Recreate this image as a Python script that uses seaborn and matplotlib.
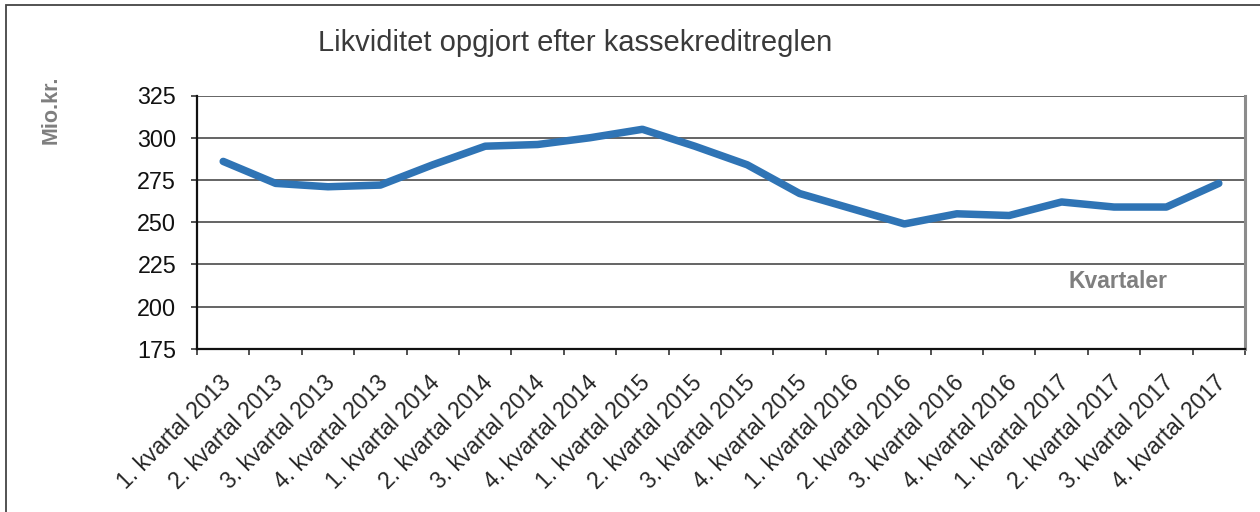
import matplotlib
matplotlib.use("Agg")
import matplotlib.pyplot as plt
import matplotlib.transforms as mtransforms
from matplotlib.patches import Rectangle
import seaborn as sns
import pandas as pd

# quarters and liquidity (mio. kr.)
quarters = [
    "1. kvartal 2013", "2. kvartal 2013", "3. kvartal 2013", "4. kvartal 2013",
    "1. kvartal 2014", "2. kvartal 2014", "3. kvartal 2014", "4. kvartal 2014",
    "1. kvartal 2015", "2. kvartal 2015", "3. kvartal 2015", "4. kvartal 2015",
    "1. kvartal 2016", "2. kvartal 2016", "3. kvartal 2016", "4. kvartal 2016",
    "1. kvartal 2017", "2. kvartal 2017", "3. kvartal 2017", "4. kvartal 2017",
]
liquidity = [286, 273, 271, 272, 284, 295, 296, 300, 305, 295,
             284, 267, 258, 249, 255, 254, 262, 259, 259, 273]
y_ticks = [175, 200, 225, 250, 275, 300, 325]

df = pd.DataFrame({"Kvartal": quarters, "Likviditet": liquidity})

sns.set_style("white")
plt.rcParams["font.family"] = ["Liberation Sans", "DejaVu Sans"]

fig = plt.figure(figsize=(12.6, 5.12), dpi=100)
ax = fig.add_axes([197 / 1260, 1 - 349 / 512, (1245 - 197) / 1260, (349 - 95.5) / 512])

sns.lineplot(data=df, x="Kvartal", y="Likviditet", ax=ax, color="#2f74b5",
             linewidth=5.4, sort=False, zorder=3)

ax.set_xlim(-0.5, len(quarters) - 0.5)
ax.set_ylim(175, 325)
ax.set_yticks(y_ticks)
ax.set_yticklabels([str(v) for v in y_ticks], fontsize=16.8, color="#111111")

# gridlines
for v in y_ticks[1:]:
    ax.axhline(v, color="#3a3a3a", linewidth=1.1, zorder=1)

# x ticks at category boundaries, labels at centers
ax.set_xticks([i - 0.5 for i in range(len(quarters) + 1)])
ax.set_xticklabels([])
ax.set_xticks(range(len(quarters)), minor=True)
ax.set_xticklabels(quarters, minor=True, rotation=45, ha="right", va="center",
                   rotation_mode="anchor", fontsize=16.5, color="#262626")
ax.tick_params(axis="x", which="minor", length=0, pad=22)
ax.tick_params(axis="x", which="major", direction="out", length=4.5, width=1.1,
               color="#222222", bottom=True)
ax.tick_params(axis="y", direction="out", length=4.5, width=1.1, color="#222222",
               pad=10.5, left=True)
offset = mtransforms.ScaledTranslation(4 / 100, 0, fig.dpi_scale_trans)
for lbl in ax.get_xticklabels(minor=True):
    lbl.set_transform(lbl.get_transform() + offset)

ax.set_xlabel("")
ax.set_ylabel("")
for side in ["left", "bottom"]:
    ax.spines[side].set_color("#111111")
    ax.spines[side].set_linewidth(1.6)
ax.spines["top"].set_visible(False)
ax.spines["right"].set_color("#8c8c8c")
ax.spines["right"].set_linewidth(2.2)

fig.text(575 / 1260, 1 - 43 / 512, "Likviditet opgjort efter kassekreditreglen",
         ha="center", va="center", fontsize=21, color="#3a3a3a")
fig.text(51 / 1260, 1 - 110 / 512, "Mio.kr.", rotation=90, ha="center", va="center",
         fontsize=15.5, fontweight="bold", color="#7f7f7f")
fig.text(1118 / 1260, 1 - 282 / 512, "Kvartaler", ha="center", va="center",
         fontsize=16.5, fontweight="bold", color="#7f7f7f")

# outer frame
fig.patches.append(Rectangle((5.5 / 1260, -0.1), 1.2, 1 - 4.5 / 512 + 0.1,
                             transform=fig.transFigure, fill=False,
                             edgecolor="#444444", linewidth=1.3))

fig.savefig("out.png", dpi=100)
